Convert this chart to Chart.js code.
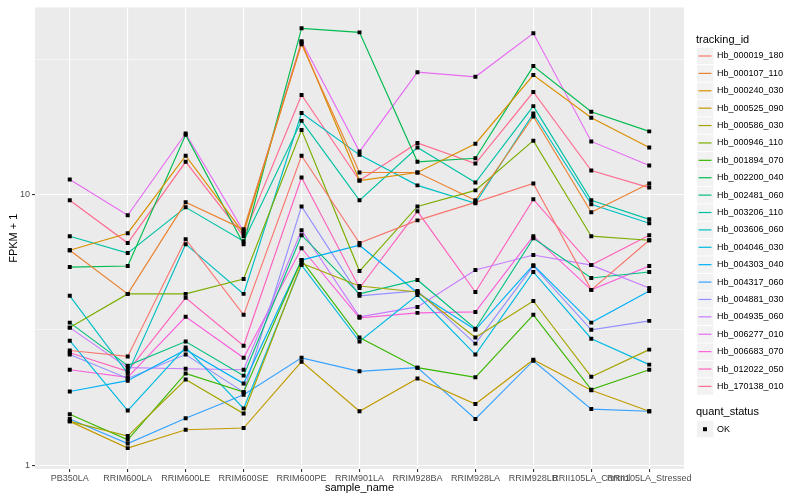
<!DOCTYPE html>
<html>
<head>
<meta charset="utf-8">
<script src="https://cdn.jsdelivr.net/npm/chart.js@4.4.1/dist/chart.umd.min.js"></script>
<style>
  body { margin: 0; background: #fff; }
  #wrap { width: 800px; height: 500px; }
</style>
</head>
<body>
<div id="wrap"><canvas id="chart" width="800" height="500"></canvas></div>
<script>
const categories = ['PB350LA', 'RRIM600LA', 'RRIM600LE', 'RRIM600SE', 'RRIM600PE', 'RRIM901LA',
  'RRIM928BA', 'RRIM928LA', 'RRIM928LB', 'RRII105LA_Control', 'RRII105LA_Stressed'];

const trackingIds = ['Hb_000019_180', 'Hb_000107_110', 'Hb_000240_030', 'Hb_000525_090', 'Hb_000586_030',
  'Hb_000946_110', 'Hb_001894_070', 'Hb_002200_040', 'Hb_002481_060', 'Hb_003206_110', 'Hb_003606_060',
  'Hb_004046_030', 'Hb_004303_040', 'Hb_004317_060', 'Hb_004881_030', 'Hb_004935_060', 'Hb_006277_010',
  'Hb_006683_070', 'Hb_012022_050', 'Hb_170138_010'];

// FPKM + 1, one value per sample
const hb_000019_180 = [2.65, 2.52, 6.83, 3.59, 13.9, 6.61, 8.02, 9.35, 10.97, 4.44, 6.77];
const hb_000107_110 = [6.22, 4.29, 9.35, 7.43, 35.9, 12.05, 12.05, 9.51, 19.4, 8.59, 10.97];
const hb_000240_030 = [6.22, 7.19, 13.9, 7.19, 36.5, 11.25, 12.05, 15.4, 27.6, 19.2, 14.9];
const hb_000525_090 = [1.45, 1.155, 1.35, 1.37, 2.41, 1.58, 2.09, 1.68, 2.45, 1.89, 1.58];
const hb_000586_030 = [1.45, 1.28, 2.07, 1.55, 5.57, 4.59, 4.36, 2.96, 4.04, 2.12, 2.67];
const hb_000946_110 = [3.22, 4.29, 4.29, 4.87, 17.3, 5.21, 9.03, 10.35, 15.8, 7.01, 6.77];
const hb_001894_070 = [1.54, 1.24, 2.18, 1.86, 5.72, 2.96, 2.29, 2.11, 3.59, 1.90, 2.25];
const hb_002200_040 = [5.39, 5.44, 16.6, 6.55, 41.1, 39.7, 13.2, 13.6, 29.8, 20.2, 17.1];
const hb_002481_060 = [3.36, 2.33, 2.86, 2.14, 7.07, 4.29, 4.83, 3.19, 6.89, 4.91, 5.17];
const hb_003206_110 = [7.01, 6.07, 8.96, 6.72, 18.7, 9.51, 14.9, 11.07, 21.2, 9.51, 8.09];
const hb_003606_060 = [4.22, 2.18, 6.55, 4.29, 20.0, 14.0, 10.8, 9.27, 19.9, 9.19, 7.82];
const hb_004046_030 = [2.88, 1.59, 2.72, 1.62, 5.48, 2.86, 4.25, 2.56, 5.17, 2.93, 2.35];
const hb_004303_040 = [1.87, 2.05, 2.67, 2.00, 5.72, 6.49, 4.33, 3.16, 5.48, 3.36, 4.40];
const hb_004317_060 = [1.48, 1.20, 1.49, 1.82, 2.49, 2.22, 2.29, 1.48, 2.43, 1.61, 1.58];
const hb_004881_030 = [2.56, 2.09, 2.56, 1.86, 9.03, 4.22, 4.40, 2.81, 5.44, 3.16, 3.41];
const hb_004935_060 = [3.22, 2.29, 2.27, 2.25, 7.37, 3.53, 3.84, 5.26, 5.97, 5.48, 4.51];
const hb_006277_010 = [11.35, 8.37, 16.8, 7.31, 36.8, 14.4, 28.3, 27.2, 39.4, 15.7, 12.8];
const hb_006683_070 = [2.25, 2.11, 3.53, 2.49, 6.33, 3.50, 3.65, 3.68, 7.01, 4.44, 5.44];
const hb_012022_050 = [2.60, 2.22, 4.15, 2.76, 11.55, 4.51, 8.66, 4.36, 9.59, 5.48, 7.07];
const hb_170138_010 = [9.51, 6.61, 13.2, 7.01, 23.3, 11.25, 15.5, 13.0, 23.9, 12.25, 10.6];

const seriesValues = [hb_000019_180, hb_000107_110, hb_000240_030, hb_000525_090, hb_000586_030,
  hb_000946_110, hb_001894_070, hb_002200_040, hb_002481_060, hb_003206_110, hb_003606_060,
  hb_004046_030, hb_004303_040, hb_004317_060, hb_004881_030, hb_004935_060, hb_006277_010,
  hb_006683_070, hb_012022_050, hb_170138_010];

const seriesColors = ['#F8766D', '#EA8331', '#D89000', '#C09B00', '#A3A500', '#7CAE00', '#39B600',
  '#00BB4E', '#00BF7D', '#00C1A3', '#00BFC4', '#00BAE0', '#00B0F6', '#35A2FF', '#9590FF', '#C77CFF',
  '#E76BF3', '#FA62DB', '#FF62BC', '#FF6C91'];

const yTicks = [1, 3.1623, 10, 31.623];
const yTickLabels = ['1', '', '10', ''];
const yMajor = [true, false, true, false];

const FONT = '"Liberation Sans", Arial, Helvetica, sans-serif';

// grey panel behind the grid
const panelBg = {
  id: 'panelBg',
  beforeDraw(chart) {
    const a = chart.chartArea, ctx = chart.ctx;
    ctx.save();
    ctx.fillStyle = '#EBEBEB';
    ctx.fillRect(a.left, a.top, a.right - a.left, a.bottom - a.top);
    ctx.restore();
  }
};

// ggplot style legend on the right
const ggLegend = {
  id: 'ggLegend',
  afterDraw(chart) {
    const ctx = chart.ctx;
    ctx.save();
    ctx.textBaseline = 'middle';
    ctx.fillStyle = '#000';
    ctx.font = '11px ' + FONT;
    ctx.fillText('tracking_id', 696, 40);
    ctx.font = '9px ' + FONT;
    trackingIds.forEach((id, i) => {
      const y = 56 + i * 17.39;
      ctx.fillStyle = '#F2F2F2';
      ctx.fillRect(697, y - 8.2, 16.4, 16.4);
      ctx.strokeStyle = seriesColors[i];
      ctx.lineWidth = 1.2;
      ctx.beginPath();
      ctx.moveTo(698.5, y);
      ctx.lineTo(711.5, y);
      ctx.stroke();
      ctx.fillStyle = '#000';
      ctx.fillText(id, 717, y);
    });
    ctx.font = '11px ' + FONT;
    ctx.fillText('quant_status', 696, 412);
    ctx.fillStyle = '#F2F2F2';
    ctx.fillRect(697, 421, 16.4, 16.4);
    ctx.fillStyle = '#000';
    ctx.fillRect(703, 427.2, 4, 4);
    ctx.font = '9px ' + FONT;
    ctx.fillText('OK', 717, 429.2);
    ctx.restore();
  }
};

const lineSets = trackingIds.map((id, i) => ({
  label: id,
  data: seriesValues[i].map((v, j) => ({ x: j, y: v })),
  borderColor: seriesColors[i],
  backgroundColor: seriesColors[i],
  borderWidth: 1.15,
  pointRadius: 0,
  fill: false,
  tension: 0
}));

// points of every series, drawn on top of the lines
const pointSet = {
  label: 'OK',
  type: 'scatter',
  data: seriesValues.flatMap(vals => vals.map((v, j) => ({ x: j, y: v }))),
  pointStyle: 'rect',
  pointRadius: 2.8,
  backgroundColor: '#000',
  borderColor: '#000',
  borderWidth: 0,
  showLine: false,
  order: -1
};

new Chart(document.getElementById('chart'), {
  type: 'line',
  data: { datasets: [pointSet, ...lineSets] },
  plugins: [panelBg, ggLegend],
  options: {
    responsive: false,
    animation: false,
    devicePixelRatio: 1,
    layout: { padding: { top: 5, right: 116, left: 0, bottom: 0 } },
    plugins: { legend: { display: false }, tooltip: { enabled: false } },
    scales: {
      x: {
        type: 'linear',
        min: -0.6,
        max: 10.6,
        afterBuildTicks: s => { s.ticks = categories.map((c, i) => ({ value: i })); },
        afterFit: s => { s.height = 31; },
        border: { display: false },
        grid: { color: '#FFFFFF', lineWidth: 1.1, drawTicks: true, tickLength: 3, tickColor: '#333333' },
        ticks: {
          autoSkip: false, maxRotation: 0, minRotation: 0, padding: 1,
          color: '#4D4D4D', font: { family: FONT, size: 9 },
          callback: v => categories[v] !== undefined ? categories[v] : ''
        },
        title: { display: true, text: 'sample_name', color: '#000', font: { family: FONT, size: 11 },
          padding: { top: 0, bottom: 5 } }
      },
      y: {
        type: 'logarithmic',
        min: 0.967,
        max: 49.1,
        afterBuildTicks: s => { s.ticks = yTicks.map(v => ({ value: v })); },
        afterFit: s => { s.width = 35; },
        border: { display: false },
        grid: {
          color: '#FFFFFF',
          lineWidth: c => (c.index !== undefined && yMajor[c.index]) ? 1.1 : 0.55,
          drawTicks: true, tickLength: 3,
          tickColor: c => (c.index !== undefined && yMajor[c.index]) ? '#333333' : 'rgba(0,0,0,0)'
        },
        ticks: {
          autoSkip: false, padding: 2, color: '#4D4D4D', font: { family: FONT, size: 9 },
          callback: (v, i) => yTickLabels[i]
        },
        title: { display: true, text: 'FPKM + 1', color: '#000', font: { family: FONT, size: 11 },
          padding: { top: 7, bottom: 0 } }
      }
    }
  }
});
</script>
</body>
</html>
